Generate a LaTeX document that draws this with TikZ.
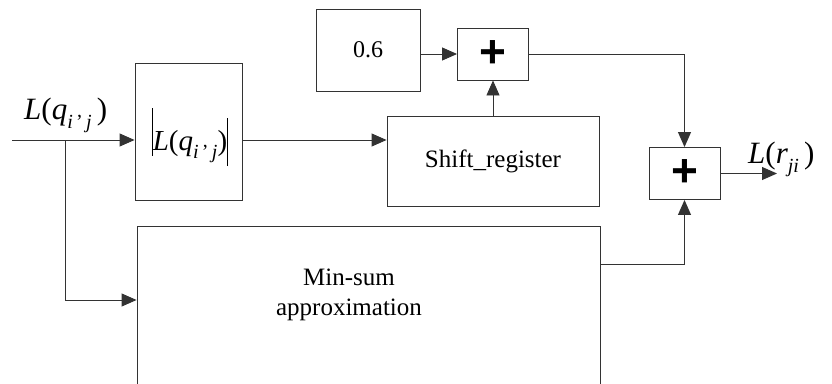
\documentclass[tikz,border=0pt]{standalone}
\usepackage{fontspec}
\setmainfont{Liberation Serif}
\newfontfamily\plusfont{Liberation Sans}
\usetikzlibrary{arrows.meta,calc}
\newcommand\sbs[1]{\raisebox{-0.3em}{\fontsize{20}{20}\selectfont #1}}
\begin{document}
\begin{tikzpicture}[x=1pt,y=-1pt,
  blk/.style={draw=black!80,line width=0.9pt,rectangle,inner sep=0pt,fill=none},
  arr/.style={draw=black!80,line width=0.9pt,-{Triangle[length=15pt,width=13pt]}},
  txt/.style={font=\fontsize{25}{30}\selectfont,inner sep=0pt,align=center},
  mth/.style={inner sep=0pt,font=\fontsize{31}{31}\selectfont},
  plusbox/.style={blk,minimum width=71pt,minimum height=52pt,font=\plusfont\bfseries\fontsize{46}{46}\selectfont}]
\useasboundingbox (0,0) rectangle (832,383);
\clip (0,0) rectangle (832,383);
% blocks
\node[blk,minimum width=107pt,minimum height=137pt] (absbox) at (188.5,131.5) {};
\node[inner sep=0pt] (abstxt) at (190,137) {\rule[-0.55em]{0.7pt}{48pt}\fontsize{29}{29}\selectfont\textit{L}(\textit{q}\sbs{\textit{i}\,'\,\textit{j}})\rule[-0.55em]{0.7pt}{48pt}};
\node[blk,minimum width=212pt,minimum height=90pt,txt] (shift) at (493,161) {Shift\_register};
\node[blk,minimum width=104pt,minimum height=82pt,font=\fontsize{24}{24}\selectfont] (c06) at (368,50) {0.6};
\node[plusbox] (p1) at (493,54) {+};
\node[plusbox] (p2) at (684.5,173.5) {+};
\node[blk,minimum width=463pt,minimum height=180pt] (minsum) at (368.5,316) {};
\node[txt] (mstext) at (349,295) {Min-sum\\approximation};
% labels
\node[mth,anchor=base west] (lq) at (24,119) {\textit{L}(\textit{q}\sbs{\textit{i}\,'\,\textit{j}}\,)};
\node[mth,anchor=base west] (lr) at (748,163) {\textit{L}(\textit{r}\sbs{\textit{ji}}\,)};
% coordinates
\coordinate (in) at (12,140);
\coordinate (br) at (65,140);
\coordinate (msin) at (137,300);
\coordinate (msout) at ($(minsum.north east)+(0,39)$);
\coordinate (out) at (777,173.5);
% connectors
\draw[arr] (in) -- (in -| absbox.west);
\draw[arr] (br) |- (msin -| minsum.west);
\draw[arr] (in -| absbox.east) -- (in -| shift.west);
\draw[arr] (c06.east |- p1.west) -- (p1.west);
\draw[arr] (shift.north) -- (p1.south);
\draw[arr] (p1.east) -| (p2.north);
\draw[arr] (msout) -| (p2.south);
\draw[arr] (p2.east) -- (out);
\end{tikzpicture}
\end{document}
